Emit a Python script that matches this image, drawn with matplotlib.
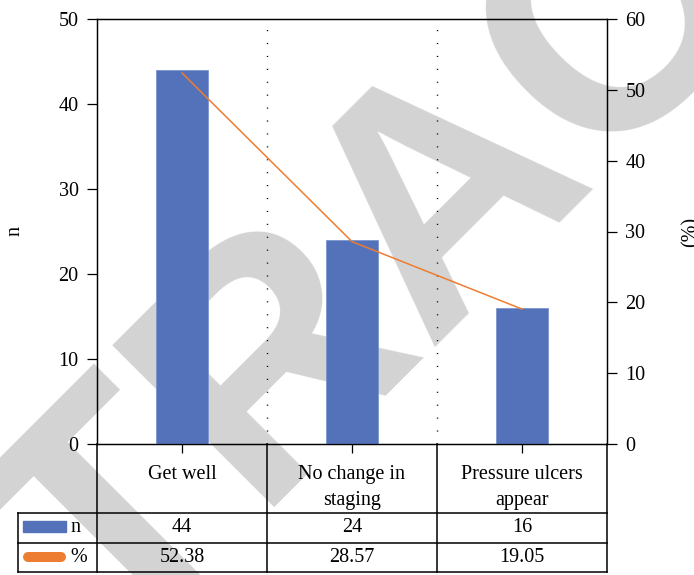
import matplotlib
matplotlib.use("Agg")
import matplotlib.pyplot as plt
from matplotlib.lines import Line2D
from matplotlib.patches import Rectangle

# ---- data ----
categories = ["Get well", "No change in\nstaging", "Pressure ulcers\nappear"]
n_values = [44, 24, 16]
pct_values = [52.38, 28.57, 19.05]
n_labels = ["44", "24", "16"]
pct_labels = ["52.38", "28.57", "19.05"]
left_ticks = [0, 10, 20, 30, 40, 50]
right_ticks = [0, 10, 20, 30, 40, 50, 60]

BLUE = "#5472BA"
ORANGE = "#ED7D31"
FS = 14.5
plt.rcParams['font.family'] = ['Liberation Serif', 'DejaVu Serif']

W, H = 694, 575
fig = plt.figure(figsize=(W / 100, H / 100), dpi=100)
fig.patch.set_facecolor("white")

# axes placement (pixels)
L, R, T, B = 97, 607, 19, 444
ax = fig.add_axes([L / W, 1 - B / H, (R - L) / W, (B - T) / H])
ax.patch.set_visible(False)

# watermark
fig.text(448 / W, 1 - 190 / H, "RETRACTED", fontsize=240, fontweight="bold",
         family="Liberation Sans", color="#d3d3d3", rotation=45,
         ha="center", va="center", rotation_mode="anchor", zorder=-10)

x = list(range(len(categories)))
ax.bar(x, n_values, width=0.31, color=BLUE, edgecolor="#7b95cc", linewidth=0.6, zorder=3)
ax.set_xlim(-0.5, len(categories) - 0.5)
ax.set_ylim(0, 50)
ax.set_yticks(left_ticks)
ax.set_xticks(x)
ax.set_xticklabels([])
ax.tick_params(axis="x", direction="out", length=6.5, width=0.9, color="black")
ax.tick_params(axis="y", direction="out", length=7.2, width=0.9, pad=6, labelsize=FS)
for s in ax.spines.values():
    s.set_linewidth(0.9)
    s.set_color("black")
ax.set_ylabel("n", fontsize=FS)
ax.yaxis.set_label_coords((24 - L) / (R - L), 0.5)

# category separators
for b in [0.5, 1.5]:
    ax.axvline(b, color="black", linewidth=1.0, linestyle=(0, (0.8, 8.5)), zorder=1)

ax2 = ax.twinx()
ax2.plot(x, pct_values, color=ORANGE, linewidth=1.1, zorder=4)
ax2.set_ylim(0, 60)
ax2.set_yticks(right_ticks)
ax2.tick_params(axis="y", direction="out", length=7.2, width=0.9, pad=6, labelsize=FS)
for s in ax2.spines.values():
    s.set_linewidth(0.9)
    s.set_color("black")
ax2.set_ylabel("(%)", fontsize=FS)
ax2.yaxis.set_label_coords((681 - L) / (R - L), 0.5)

# ---- data table below the axes ----
tr = ax.get_xaxis_transform()  # x in data, y in axes fraction
def py(p):
    return (B - p) / (B - T)
def px(p):
    return -0.5 + (p - L) / ((R - L) / len(categories))

row_top, row_mid, row_bot = py(513), py(543), py(572)
left_edge = px(18)
lw = 1.1
for yy in [row_top, row_mid, row_bot]:
    ax.add_line(Line2D([left_edge, 2.5], [yy, yy], transform=tr, color="black",
                       linewidth=lw, clip_on=False))
ax.add_line(Line2D([left_edge, left_edge], [row_top, row_bot], transform=tr,
                   color="black", linewidth=lw, clip_on=False))
for b in [-0.5, 0.5, 1.5, 2.5]:
    ax.add_line(Line2D([b, b], [0, row_bot], transform=tr, color="black",
                       linewidth=lw, clip_on=False))

# header texts
for i, c in enumerate(categories):
    ax.text(i, py(465), c, transform=tr, ha="center", va="top", fontsize=FS,
            linespacing=1.5, clip_on=False)
# row values
for i in range(len(categories)):
    ax.text(i, (row_top + row_mid) / 2, n_labels[i], transform=tr, ha="center",
            va="center", fontsize=FS)
    ax.text(i, (row_mid + row_bot) / 2, pct_labels[i], transform=tr, ha="center",
            va="center", fontsize=FS)

# legend keys
ax.add_patch(Rectangle((px(23), py(532)), px(66) - px(23), py(521) - py(532),
                       transform=tr, color=BLUE, clip_on=False))
ax.text(px(70), (row_top + row_mid) / 2, "n", transform=tr, ha="left",
        va="center", fontsize=FS)
ax.add_line(Line2D([px(28), px(61)], [py(557), py(557)], transform=tr,
                   color=ORANGE, linewidth=7.2, solid_capstyle="round",
                   clip_on=False))
ax.text(px(70), (row_mid + row_bot) / 2, "%", transform=tr, ha="left",
        va="center", fontsize=FS)

fig.savefig("out.png", dpi=100)
